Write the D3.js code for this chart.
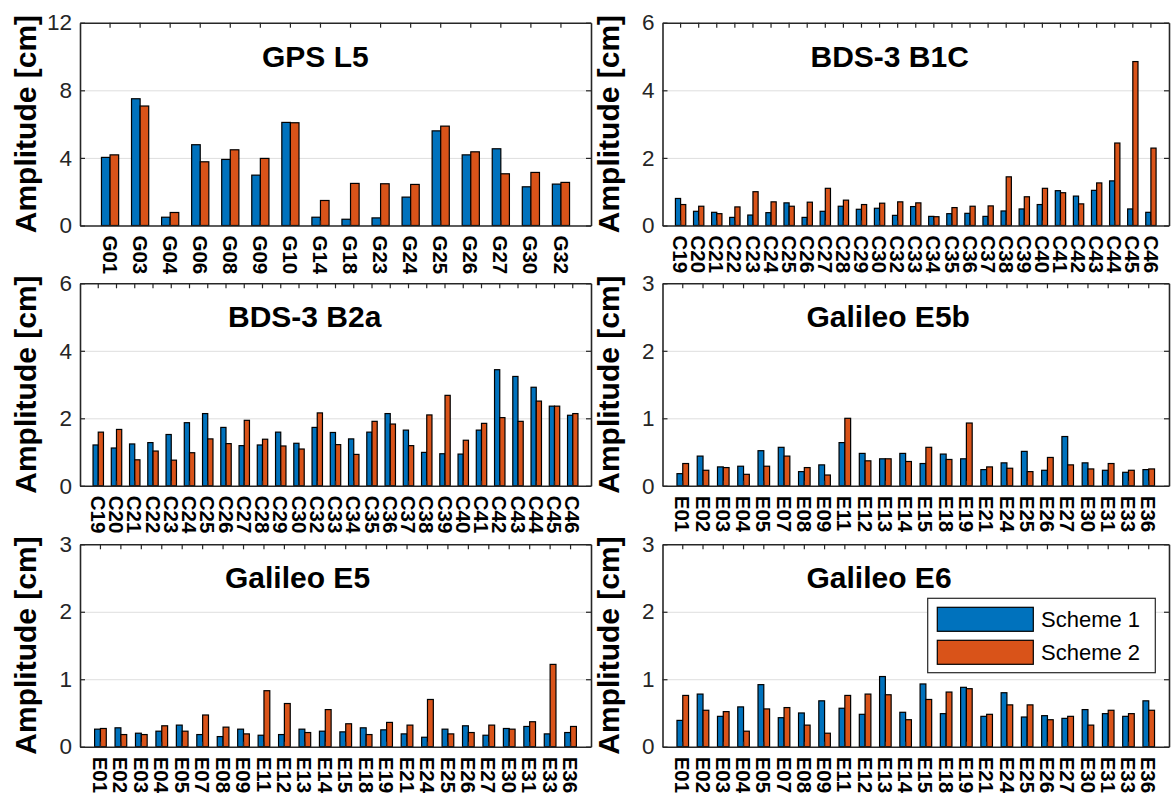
<!DOCTYPE html>
<html>
<head>
<meta charset="utf-8">
<script src="https://cdn.jsdelivr.net/npm/d3@7"></script>
<style>
  html, body { margin: 0; padding: 0; background: #fff; }
  svg { display: block; font-family: "Liberation Sans", Arial, sans-serif; }
</style>
</head>
<body>
<svg id="chart" width="1172" height="796"></svg>
<script>
// ---------------- data ----------------
const seriesNames = ["Scheme 1", "Scheme 2"];

const gpsCats = ["G01","G03","G04","G06","G08","G09","G10","G14","G18","G23","G24","G25","G26","G27","G30","G32"];
const gpsL5S1 = [4.03,7.50,0.49,4.78,3.91,2.98,6.10,0.49,0.37,0.45,1.68,5.60,4.18,4.54,2.29,2.45];
const gpsL5S2 = [4.18,7.07,0.77,3.77,4.48,3.97,6.08,1.48,2.49,2.47,2.43,5.88,4.36,3.06,3.14,2.55];

const bdsCats = ["C19","C20","C21","C22","C23","C24","C25","C26","C27","C28","C29","C30","C32","C33","C34","C35","C36","C37","C38","C39","C40","C41","C42","C43","C44","C45","C46"];
const b1cS1 = [0.80,0.42,0.39,0.24,0.31,0.38,0.67,0.24,0.42,0.57,0.48,0.51,0.30,0.56,0.27,0.35,0.36,0.27,0.43,0.49,0.62,1.03,0.87,1.04,1.32,0.49,0.39];
const b1cS2 = [0.62,0.57,0.35,0.55,1.00,0.70,0.57,0.69,1.10,0.75,0.62,0.66,0.70,0.67,0.26,0.53,0.57,0.58,1.44,0.85,1.10,0.97,0.64,1.26,2.44,4.85,2.29];
const b2aS1 = [1.21,1.12,1.24,1.28,1.52,1.87,2.14,1.73,1.19,1.21,1.59,1.26,1.73,1.58,1.39,1.59,2.14,1.65,0.99,0.95,0.94,1.65,3.44,3.24,2.92,2.36,2.09];
const b2aS2 = [1.59,1.67,0.77,1.03,0.76,0.98,1.39,1.25,1.94,1.38,1.18,1.09,2.16,1.22,0.93,1.91,1.83,1.19,2.10,2.68,1.35,1.85,2.02,1.91,2.51,2.36,2.14];

const galCats = ["E01","E02","E03","E04","E05","E07","E08","E09","E11","E12","E13","E14","E15","E18","E19","E21","E24","E25","E26","E27","E30","E31","E33","E36"];
const e5bS1 = [0.18,0.44,0.28,0.29,0.52,0.57,0.21,0.31,0.64,0.48,0.40,0.48,0.33,0.47,0.40,0.24,0.34,0.51,0.23,0.73,0.34,0.23,0.20,0.24];
const e5bS2 = [0.33,0.23,0.27,0.17,0.29,0.44,0.27,0.16,1.00,0.37,0.40,0.36,0.57,0.39,0.93,0.28,0.26,0.21,0.42,0.31,0.25,0.33,0.23,0.25];
const e5S1  = [0.26,0.28,0.20,0.23,0.32,0.18,0.15,0.26,0.17,0.18,0.26,0.23,0.22,0.28,0.25,0.19,0.14,0.26,0.31,0.17,0.27,0.30,0.19,0.21];
const e5S2  = [0.27,0.18,0.18,0.31,0.23,0.47,0.29,0.19,0.83,0.64,0.21,0.55,0.34,0.18,0.36,0.32,0.70,0.19,0.21,0.32,0.26,0.37,1.22,0.30];
const e6S1  = [0.39,0.78,0.45,0.59,0.92,0.43,0.50,0.68,0.57,0.48,1.04,0.51,0.93,0.49,0.88,0.45,0.80,0.44,0.46,0.42,0.55,0.49,0.45,0.68];
const e6S2  = [0.76,0.54,0.52,0.23,0.56,0.58,0.32,0.20,0.76,0.78,0.77,0.40,0.70,0.81,0.86,0.48,0.62,0.62,0.40,0.45,0.32,0.54,0.49,0.54];

const titles = ["GPS L5","BDS-3 B1C","BDS-3 B2a","Galileo E5b","Galileo E5","Galileo E6"];
const yMaxes = [12, 6, 6, 3, 3, 3];
const yTicksList = [[0,4,8,12],[0,2,4,6],[0,2,4,6],[0,1,2,3],[0,1,2,3],[0,1,2,3]];
const yLabel = "Amplitude [cm]";

// ---------------- layout / style ----------------
const colors = ["#0072BD", "#D95319"];
const axisColor = "#262626";
const FONT = "'Liberation Sans', Arial, sans-serif";
const cols = [[80, 591], [662.5, 1169]];
const rows = [[22.7, 225.5], [283.3, 485.8], [544.3, 746.7]];
const titleOffsets = [182, 148, 148, 144, 145, 144];

const panels = [
  { cats: gpsCats, s: [gpsL5S1, gpsL5S2] },
  { cats: bdsCats, s: [b1cS1, b1cS2] },
  { cats: bdsCats, s: [b2aS1, b2aS2] },
  { cats: galCats, s: [e5bS1, e5bS2] },
  { cats: galCats, s: [e5S1, e5S2] },
  { cats: galCats, s: [e6S1, e6S2] }
];

const svg = d3.select("#chart");

panels.forEach((p, k) => {
  const [x0, x1] = cols[k % 2];
  const [yTop, yBot] = rows[Math.floor(k / 2)];
  const W = x1 - x0, H = yBot - yTop;
  const g = svg.append("g").attr("transform", `translate(${x0},${yTop})`);

  const inner = 1 - 2 / 3.5;              // MATLAB grouped-bar width
  const outer = (1 + inner) / 2;
  const x = d3.scaleBand().domain(p.cats).range([0, W]).paddingInner(inner).paddingOuter(outer);
  const xs = d3.scaleBand().domain([0, 1]).range([0, x.bandwidth()]);
  const y = d3.scaleLinear().domain([0, yMaxes[k]]).range([H, 0]);

  // grid
  g.append("g")
    .call(d3.axisLeft(y).tickValues(yTicksList[k].filter(v => v > 0 && v < yMaxes[k])).tickSize(-W).tickFormat(""))
    .call(a => a.select(".domain").remove())
    .call(a => a.selectAll("line").attr("stroke", "#dedede").attr("stroke-width", 1));

  // bars
  const rowsData = p.cats.map((c, i) => ({ c, v: [p.s[0][i], p.s[1][i]] }));
  [0, 1].forEach(si => {
    g.append("g").selectAll("rect").data(rowsData).join("rect")
      .attr("x", d => x(d.c) + xs(si))
      .attr("width", xs.bandwidth())
      .attr("y", d => y(d.v[si]))
      .attr("height", d => y(0) - y(d.v[si]))
      .attr("fill", colors[si])
      .attr("stroke", "#000")
      .attr("stroke-width", 1.2);
  });

  // axes (box)
  const styleAxis = a => {
    a.select(".domain").attr("stroke", axisColor).attr("stroke-width", 1.6);
    a.selectAll(".tick line").attr("stroke", axisColor).attr("stroke-width", 1.2);
  };
  g.append("g").attr("transform", `translate(0,${H})`)
    .call(d3.axisBottom(x).tickSizeInner(-5).tickSizeOuter(0).tickPadding(10))
    .call(styleAxis)
    .call(a => a.selectAll("text")
      .attr("transform", "rotate(90)")
      .attr("x", 10).attr("y", 0).attr("dy", "0.36em")
      .attr("text-anchor", "start")
      .attr("fill", "#000")
      .style("font-size", "20.5px").style("font-weight", "bold")
      .style("font-family", FONT));
  g.append("g")
    .call(d3.axisTop(x).tickSizeInner(-5).tickSizeOuter(0).tickFormat(""))
    .call(styleAxis);
  g.append("g")
    .call(d3.axisLeft(y).tickValues(yTicksList[k]).tickFormat(d3.format("d"))
      .tickSizeInner(-5).tickSizeOuter(0).tickPadding(8))
    .call(styleAxis)
    .call(a => a.selectAll("text").attr("fill", axisColor)
      .style("font-size", "22.5px").style("font-family", FONT));
  g.append("g").attr("transform", `translate(${W},0)`)
    .call(d3.axisRight(y).tickValues(yTicksList[k]).tickSizeInner(-5).tickSizeOuter(0).tickFormat(""))
    .call(styleAxis);

  // title
  g.append("text")
    .attr("x", titleOffsets[k]).attr("y", 44)
    .attr("font-size", 30).attr("font-weight", "bold").attr("fill", "#000")
    .text(titles[k]);

  // y label
  g.append("text")
    .attr("transform", `translate(-44,${H / 2}) rotate(-90)`)
    .attr("text-anchor", "middle")
    .attr("font-size", 30).attr("font-weight", "bold").attr("fill", "#000")
    .text(yLabel);

  // legend in last panel
  if (k === 5) {
    const lg = g.append("g").attr("transform", `translate(${W - 241.3},${y(3) + 54})`);
    lg.append("rect").attr("width", 227.6).attr("height", 74.4)
      .attr("fill", "#fff").attr("stroke", axisColor).attr("stroke-width", 1.2);
    seriesNames.forEach((name, si) => {
      lg.append("rect").attr("x", 9.6).attr("y", 9 + si * 33).attr("width", 96).attr("height", 24)
        .attr("fill", colors[si]).attr("stroke", "#000").attr("stroke-width", 1.2);
      lg.append("text").attr("x", 113.3).attr("y", 29 + si * 33)
        .attr("font-size", 22).attr("fill", "#000").text(name);
    });
  }
});
</script>
</body>
</html>
